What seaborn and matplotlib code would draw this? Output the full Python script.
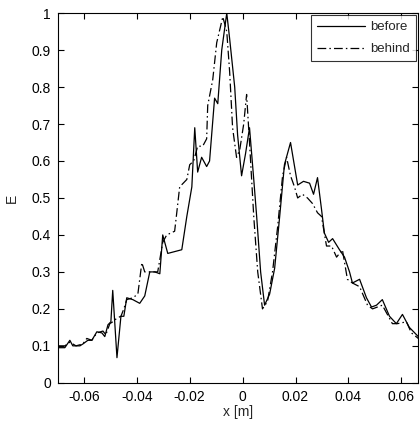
import matplotlib
matplotlib.use("Agg")
import matplotlib.pyplot as plt
import numpy as np
import pandas as pd
import seaborn as sns

# Field profile E along x, measured in front of ("before") and behind the sample
x_before = [-0.0698, -0.0672, -0.0653, -0.0642, -0.0615, -0.0604, -0.0585, -0.0570,
            -0.0551, -0.0532, -0.0521, -0.0509, -0.0498, -0.0491, -0.0475, -0.0460,
            -0.0449, -0.0438, -0.0415, -0.0389, -0.0370, -0.0351, -0.0332, -0.0313,
            -0.0302, -0.0283, -0.0230, -0.0211, -0.0192, -0.0181, -0.0170, -0.0155,
            -0.0136, -0.0125, -0.0106, -0.0094, -0.0079, -0.0060, -0.0049, -0.0030,
            -0.0019, -0.0004, 0.0011, 0.0026, 0.0042, 0.0053, 0.0068, 0.0083,
            0.0102, 0.0121, 0.0140, 0.0158, 0.0181, 0.0208, 0.0230, 0.0253,
            0.0268, 0.0283, 0.0298, 0.0309, 0.0325, 0.0340, 0.0366, 0.0385,
            0.0404, 0.0415, 0.0442, 0.0468, 0.0487, 0.0506, 0.0528, 0.0555,
            0.0581, 0.0604, 0.0630, 0.0664]
e_before = [0.095, 0.095, 0.115, 0.100, 0.100, 0.105, 0.115, 0.115,
            0.138, 0.135, 0.125, 0.157, 0.165, 0.250, 0.068, 0.180,
            0.180, 0.230, 0.225, 0.215, 0.235, 0.300, 0.300, 0.295,
            0.400, 0.350, 0.360, 0.450, 0.530, 0.690, 0.570, 0.610,
            0.585, 0.600, 0.770, 0.755, 0.900, 1.000, 0.930, 0.800,
            0.670, 0.560, 0.620, 0.690, 0.550, 0.450, 0.300, 0.210,
            0.240, 0.310, 0.450, 0.590, 0.650, 0.535, 0.545, 0.540,
            0.510, 0.555, 0.470, 0.405, 0.380, 0.390, 0.360, 0.340,
            0.300, 0.270, 0.280, 0.230, 0.205, 0.210, 0.225, 0.180,
            0.160, 0.185, 0.150, 0.125]

x_behind = [-0.0698, -0.0672, -0.0653, -0.0630, -0.0604, -0.0589, -0.0570, -0.0551,
            -0.0528, -0.0517, -0.0502, -0.0491, -0.0475, -0.0460, -0.0449, -0.0438,
            -0.0415, -0.0396, -0.0381, -0.0370, -0.0351, -0.0321, -0.0302, -0.0287,
            -0.0257, -0.0249, -0.0238, -0.0211, -0.0200, -0.0185, -0.0170, -0.0151,
            -0.0136, -0.0132, -0.0113, -0.0098, -0.0075, -0.0060, -0.0049, -0.0038,
            -0.0023, -0.0011, 0.0004, 0.0015, 0.0026, 0.0042, 0.0057, 0.0075,
            0.0094, 0.0113, 0.0132, 0.0151, 0.0166, 0.0181, 0.0196, 0.0208,
            0.0226, 0.0245, 0.0264, 0.0283, 0.0298, 0.0317, 0.0336, 0.0355,
            0.0377, 0.0396, 0.0415, 0.0442, 0.0472, 0.0491, 0.0528, 0.0566,
            0.0585, 0.0619, 0.0638, 0.0664]
e_behind = [0.100, 0.100, 0.110, 0.100, 0.105, 0.120, 0.115, 0.135,
            0.140, 0.130, 0.160, 0.165, 0.175, 0.180, 0.200, 0.225,
            0.230, 0.240, 0.325, 0.300, 0.300, 0.300, 0.380, 0.400,
            0.410, 0.460, 0.530, 0.550, 0.590, 0.600, 0.640, 0.640,
            0.660, 0.750, 0.820, 0.920, 0.990, 0.950, 0.840, 0.690,
            0.610, 0.630, 0.700, 0.780, 0.650, 0.450, 0.300, 0.200,
            0.220, 0.300, 0.420, 0.560, 0.610, 0.560, 0.530, 0.500,
            0.510, 0.500, 0.485, 0.460, 0.450, 0.370, 0.370, 0.340,
            0.360, 0.280, 0.270, 0.260, 0.210, 0.200, 0.210, 0.160,
            0.160, 0.165, 0.135, 0.120]

x_ticks = [-0.06, -0.04, -0.02, 0, 0.02, 0.04, 0.06]
x_ticklabels = ["-0.06", "-0.04", "-0.02", "0", "0.02", "0.04", "0.06"]
y_ticks = [0, 0.1, 0.2, 0.3, 0.4, 0.5, 0.6, 0.7, 0.8, 0.9, 1.0]
y_ticklabels = ["0", "0.1", "0.2", "0.3", "0.4", "0.5", "0.6", "0.7", "0.8", "0.9", "1"]

DASHDOT = (0, (7, 2.5, 1.2, 2.5))

sns.set_style("ticks")
plt.rcParams["font.family"] = ["Liberation Sans", "DejaVu Sans"]
plt.rcParams["xtick.direction"] = "in"
plt.rcParams["ytick.direction"] = "in"

fig = plt.figure(figsize=(4.2, 4.23), dpi=100)
ax = fig.add_axes([0.138, 0.095, 0.858, 0.874])

sns.lineplot(x=x_before, y=e_before, ax=ax, color="black", linewidth=0.9,
             estimator=None, sort=False, label="before")
sns.lineplot(x=x_behind, y=e_behind, ax=ax, color="black", linewidth=0.9,
             estimator=None, sort=False, label="behind")
ax.lines[1].set_linestyle(DASHDOT)

ax.set_xlim(-0.0698, 0.0664)
ax.set_ylim(0, 1)
ax.set_xticks(x_ticks)
ax.set_xticklabels(x_ticklabels)
ax.set_yticks(y_ticks)
ax.set_yticklabels(y_ticklabels)
ax.tick_params(axis="both", which="both", direction="in", length=4, width=0.8,
               labelsize=10, top=True, right=True, pad=5, colors="black")
for side in ax.spines.values():
    side.set_linewidth(0.8)
    side.set_color("black")
ax.set_xlabel("x [m]", fontsize=10, labelpad=1)
ax.set_ylabel("E", fontsize=10, labelpad=9)

leg = ax.legend(loc="upper right", fontsize=9.5, frameon=True, fancybox=False,
                edgecolor="black", handlelength=3.6, borderpad=0.45,
                labelspacing=0.75, borderaxespad=0.15, handletextpad=0.45)
leg.get_frame().set_linewidth(0.8)
for h in leg.get_lines():
    h.set_color("black")
leg.get_lines()[1].set_linestyle(DASHDOT)

fig.savefig("out.png", dpi=100)
